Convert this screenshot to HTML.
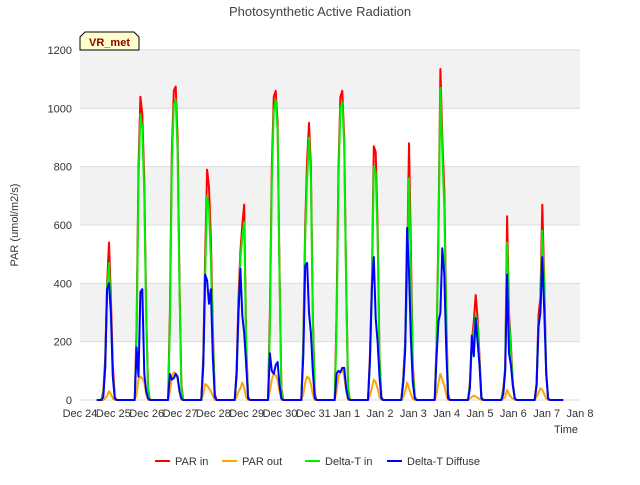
<!DOCTYPE html>
<html><head><meta charset="utf-8"><style>
body{margin:0;background:#fff;font-family:"Liberation Sans",sans-serif;}
svg text{font-family:"Liberation Sans",sans-serif;}
</style></head><body>
<svg id="chart" width="640" height="480" viewBox="0 0 640 480" xmlns="http://www.w3.org/2000/svg">
<rect width="640" height="480" fill="#fff"/>
<text x="320" y="16" text-anchor="middle" font-size="13" fill="#444">Photosynthetic Active Radiation</text>
<g id="bands"></g>
<g id="grid"></g>
<g id="series"></g>
<g id="axes"></g>
<text transform="translate(18,225) rotate(-90)" text-anchor="middle" font-size="11" fill="#333">PAR (umol/m2/s)</text>
<text x="578" y="433" text-anchor="end" font-size="11" fill="#333">Time</text>
<g>
<path d="M80,50 L80,37 L85,32 L134,32 L139,37 L139,50 Z" fill="#ffffcc" stroke="#000" stroke-width="1"/>
<text x="109.5" y="46" text-anchor="middle" font-size="11" font-weight="bold" fill="#8b0000">VR_met</text>
</g>
<g id="legend"></g>
</svg>
<script>
const xTickLabels=["Dec 24","Dec 25","Dec 26","Dec 27","Dec 28","Dec 29","Dec 30","Dec 31","Jan 1","Jan 2","Jan 3","Jan 4","Jan 5","Jan 6","Jan 7","Jan 8"];
const yTicks=[0,200,400,600,800,1000,1200];
const seriesNames=["PAR in","PAR out","Delta-T in","Delta-T Diffuse"];
const seriesColors=["#ff0000","#ffa500","#00ee00","#0000ff"];
const parIn=[
[0,30,140,400,540,350,120,10,0],[0,250,800,1040,980,750,300,40,0],[0,300,850,1060,1075,900,400,50,0],
[0,150,500,790,730,550,250,20,0],[0,100,350,510,600,670,200,10,0],[0,300,800,1040,1060,950,450,40,0],
[0,200,600,820,950,800,300,20,0],[0,300,800,1040,1060,900,400,40,0],[0,150,380,870,850,600,150,10,0],
[0,80,200,450,880,520,120,10,0],[0,200,600,1135,900,720,300,20,0],[0,60,200,270,360,280,150,10,0],
[0,40,110,630,300,190,60,5,0],[0,60,290,350,670,400,100,5,0]];
const parOut=[
[0,0,5,15,30,20,5,0,0],[0,20,70,80,75,60,20,0,0],[0,30,80,95,90,70,30,0,0],[0,20,55,50,40,30,15,0,0],
[0,10,30,40,60,40,10,0,0],[0,30,70,90,85,70,30,0,0],[0,20,60,80,75,55,20,0,0],[0,30,80,95,110,80,30,0,0],
[0,15,40,70,60,40,10,0,0],[0,10,30,60,40,20,5,0,0],[0,20,60,90,70,50,20,0,0],[0,5,10,15,12,8,3,0,0],
[0,5,10,35,20,10,5,0,0],[0,10,25,40,35,20,5,0,0]];
const deltaTIn=[
[0,20,110,390,470,300,90,5,0],[0,200,750,980,930,700,280,30,0],[0,250,800,1010,1030,850,380,40,0],
[0,120,430,700,650,480,220,10,0],[0,80,300,480,560,610,180,5,0],[0,250,750,990,1030,920,420,30,0],
[0,180,560,760,900,760,280,10,0],[0,250,750,1000,1020,870,380,30,0],[0,130,350,800,780,560,140,5,0],
[0,70,180,420,760,450,100,5,0],[0,180,560,1070,850,660,280,10,0],[0,50,180,240,290,260,130,5,0],
[0,30,100,540,280,170,50,5,0],[0,50,260,300,580,380,90,5,0]];
const deltaTDiffuse=[
[0,10,110,380,400,300,80,5,0],[0,180,80,370,380,90,30,5,0],[0,90,70,75,90,80,30,5,0],
[0,120,430,410,330,380,150,10,0],[0,90,300,450,290,230,120,5,0],[0,160,100,90,120,130,50,5,0],
[0,150,460,470,300,230,100,5,0],[0,90,100,95,110,110,40,5,0],[0,130,380,490,280,200,80,5,0],
[0,60,170,590,440,210,60,5,0],[0,150,270,300,520,430,180,5,0],[0,40,220,150,280,200,120,5,0],
[0,20,100,430,160,120,50,5,0],[0,50,250,300,490,300,90,5,0]];
const allSeries=[parIn,parOut,deltaTIn,deltaTDiffuse];
const X0=80,X1=580,Y0=400,Y1=50;
function xs(d){return X0+d*(X1-X0)/15;}
function ys(v){return Y0-v*(Y0-Y1)/1200;}
const NS="http://www.w3.org/2000/svg";
function mk(tag,attrs,parent){const e=document.createElementNS(NS,tag);for(const k in attrs)e.setAttribute(k,attrs[k]);parent.appendChild(e);return e;}
const bands=document.getElementById('bands'),grid=document.getElementById('grid'),axes=document.getElementById('axes'),ser=document.getElementById('series'),leg=document.getElementById('legend');
for(let i=0;i<yTicks.length-1;i++){
  const b=mk('rect',{x:X0,y:ys(yTicks[i+1]),width:X1-X0,height:ys(yTicks[i])-ys(yTicks[i+1]),fill:i%2?'#f2f2f2':'#ffffff'},bands);
  
  
}
yTicks.forEach(v=>{
  const l=mk('line',{x1:X0,x2:X1,y1:ys(v),y2:ys(v),stroke:'#dcdcdc','stroke-width':1},grid);
  
  
  const t=mk('text',{x:72,y:ys(v)+4,'text-anchor':'end','font-size':11,fill:'#333'},axes);
  t.textContent=v;
  
  
});
xTickLabels.forEach((s,i)=>{
  const t=mk('text',{x:xs(i),y:417,'text-anchor':'middle','font-size':11,fill:'#333'},axes);
  t.textContent=s;
  
  
});
allSeries.forEach((data,si)=>{
  const pts=[[xs(0.5),ys(0)]];
  data.forEach((hump,n)=>{
    hump.forEach((v,i)=>{pts.push([xs(n+1-0.36+i*0.0575),ys(v)]);});
  });
  pts.push([xs(14.5),ys(0)]);
  const p=mk('polyline',{points:pts.map(p=>p[0].toFixed(1)+','+p[1].toFixed(1)).join(' '),fill:'none',stroke:seriesColors[si],'stroke-width':2,'stroke-linejoin':'round'},ser);
  
  
});
const legX=[155,222,305,387];
seriesNames.forEach((s,i)=>{
  const l=mk('line',{x1:legX[i],x2:legX[i]+15,y1:461,y2:461,stroke:seriesColors[i],'stroke-width':2},leg);
  
  
  const t=mk('text',{x:legX[i]+20,y:465,'font-size':11,fill:'#333'},leg);
  t.textContent=s;
  
  
});
</script>
</body></html>
